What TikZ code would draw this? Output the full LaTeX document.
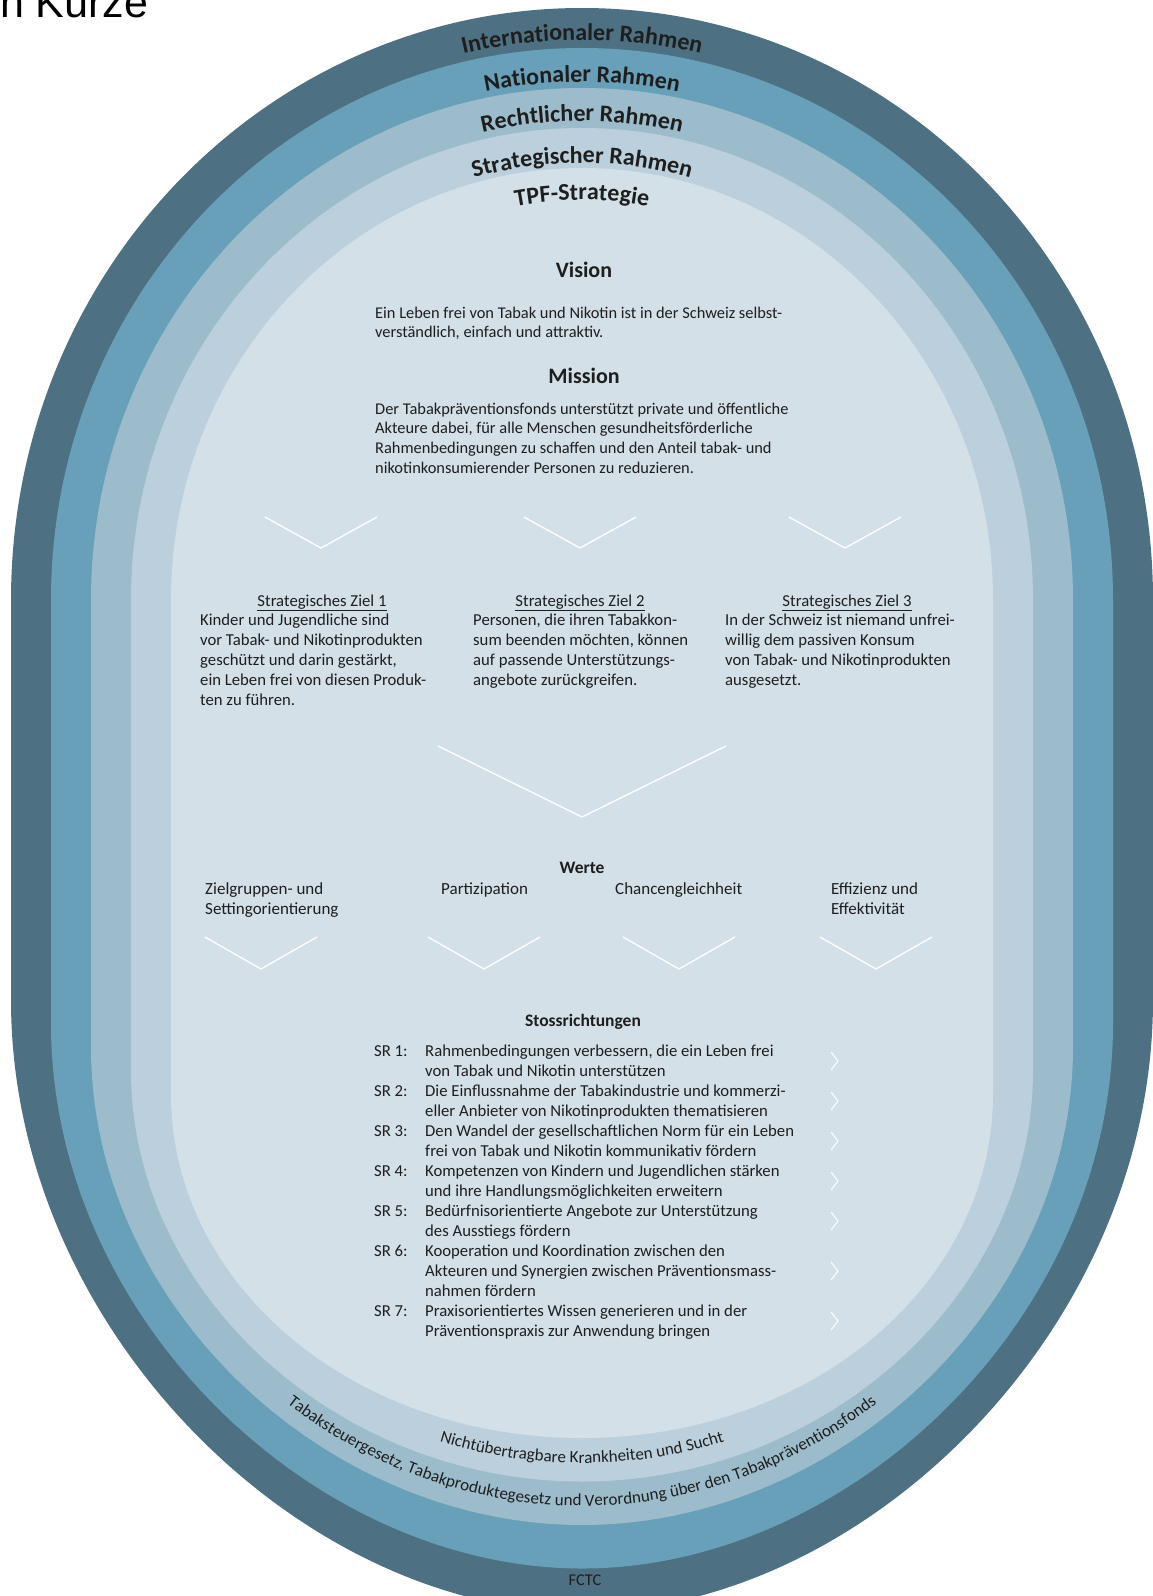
\documentclass[tikz,border=0pt]{standalone}
\usepackage{fontspec}
\setmainfont{Carlito}
\newfontfamily\titlefont{Liberation Sans}
\usetikzlibrary{decorations.text}
\definecolor{bandA}{RGB}{77,112,130}
\definecolor{bandB}{RGB}{103,160,184}
\definecolor{bandC}{RGB}{156,188,204}
\definecolor{bandD}{RGB}{187,208,220}
\definecolor{innerC}{RGB}{211,224,232}
\definecolor{ink}{RGB}{30,30,30}
\newcommand{\tl}[1]{\begin{tabular}[t]{@{}l@{}}#1\end{tabular}}
\newcommand{\ringfmt}{\fontsize{24}{26}\selectfont\bfseries}
\newcommand{\botfmt}{\fontsize{17}{19}\selectfont}
\tikzset{
  % #1 half width, #2 top radius, #3 start of bottom curve, #4 vertical handle, #5 horizontal handle, #6 bottom y
  ringshape/.style n args={6}{insert path={(582-#1,-600) arc[start angle=180,end angle=0,x radius=#1pt,y radius=#2pt] -- (582+#1,-#3) .. controls (582+#1,-#3-#4) and (582+#5,-#6) .. (582,-#6) .. controls (582-#5,-#6) and (582-#1,-#3-#4) .. (582-#1,-#3) -- cycle}},
  body/.style={font=\fontsize{16.4}{19.7}\selectfont, text=ink, inner sep=0pt},
  srtext/.style={font=\fontsize{16.7}{20}\selectfont, text=ink, inner sep=0pt},
  goal/.style={font=\fontsize{16.7}{20}\selectfont, text=ink, inner sep=0pt},
  value/.style={font=\fontsize{17}{20.5}\selectfont, text=ink, inner sep=0pt},
  head/.style={font=\fontsize{22}{24}\selectfont\bfseries, text=ink, inner sep=0pt},
  subhead/.style={font=\fontsize{17.5}{19}\selectfont\bfseries, text=ink, inner sep=0pt},
  chev/.style={draw=white, line width=1.3pt},
  srchev/.style={draw=white, line width=1pt},
  ring/.style={decorate, decoration={text along path, text align=center, text color=ink, text={#1}}}
}
\begin{document}
\begin{tikzpicture}[x=1pt,y=1pt]
\useasboundingbox (0,0) rectangle (1153,-1596);
\fill[white] (0,0) rectangle (1153,-1596);
% rings
\fill[bandA, ringshape={571}{592}{1000}{330}{280}{1612}];
\fill[bandB, ringshape={531}{552}{1023.5}{295}{267.5}{1568.5}];
\fill[bandC, ringshape={491}{512}{1047}{260}{255}{1525}];
\fill[bandD, ringshape={451}{472}{1070.5}{225}{242.5}{1481.5}];
\fill[innerC, ringshape={411}{432}{1094}{190}{230}{1438}];
% title
\node[font=\titlefont\fontsize{43}{45}\selectfont, anchor=base west, inner sep=0pt, text=black] (title) at (-12,-17) {In Kürze};
% top ring labels
\path[ring={|\ringfmt|Internationaler Rahmen}] (43,-600) arc[start angle=180,end angle=0,x radius=539pt,y radius=560pt];
\path[ring={|\ringfmt|Nationaler Rahmen}] (85,-600) arc[start angle=180,end angle=0,x radius=497pt,y radius=518pt];
\path[ring={|\ringfmt|Rechtlicher Rahmen}] (124,-600) arc[start angle=180,end angle=0,x radius=458pt,y radius=479pt];
\path[ring={|\ringfmt|Strategischer Rahmen}] (166,-600) arc[start angle=180,end angle=0,x radius=416pt,y radius=437pt];
\path[ring={|\ringfmt|TPF-Strategie}] (203,-600) arc[start angle=180,end angle=0,x radius=379pt,y radius=400pt];
% bottom ring labels
\path[ring={|\botfmt|Nichtübertragbare Krankheiten und Sucht}] (148,-1080.5) .. controls (148,-1290.5) and (345,-1463) .. (582,-1463) .. controls (819,-1463) and (1016,-1290.5) .. (1016,-1080.5);
\path[ring={|\botfmt|Tabaksteuergesetz, Tabakproduktegesetz und Verordnung über den Tabakpräventionsfonds}] (108.5,-1057.3) .. controls (108.5,-1302) and (332.5,-1506) .. (582,-1506) .. controls (831.5,-1506) and (1055.5,-1302) .. (1055.5,-1057.3);
\node[body, anchor=base] (fctc) at (585,-1585) {FCTC};
% vision & mission
\node[head, anchor=base] (vision) at (584,-277.5) {Vision};
\node[body, anchor=base west] (visiontext) at (375,-318) {\tl{Ein Leben frei von Tabak und Nikotin ist in der Schweiz selbst-\\verständlich, einfach und attraktiv.}};
\node[head, anchor=base] (mission) at (584,-383.5) {Mission};
\node[body, anchor=base west] (missiontext) at (375,-414) {\tl{Der Tabakpräventionsfonds unterstützt private und öffentliche\\Akteure dabei, für alle Menschen gesundheitsförderliche\\Rahmenbedingungen zu schaffen und den Anteil tabak- und\\nikotinkonsumierender Personen zu reduzieren.}};
% chevrons row 1
\draw[chev] (265,-517) -- (321,-548) -- (377,-517);
\draw[chev] (524,-517) -- (580,-548) -- (636,-517);
\draw[chev] (789,-517) -- (845,-548) -- (901,-517);
% goals
\node[goal, anchor=base] (g1head) at (322,-606) {\underline{Strategisches Ziel 1}};
\node[goal, anchor=base west] (g1) at (200,-625) {\tl{Kinder und Jugendliche sind\\vor Tabak- und Nikotinprodukten\\geschützt und darin gestärkt,\\ein Leben frei von diesen Produk-\\ten zu führen.}};
\node[goal, anchor=base] (g2head) at (580,-606) {\underline{Strategisches Ziel 2}};
\node[goal, anchor=base west] (g2) at (473,-625) {\tl{Personen, die ihren Tabakkon-\\sum beenden möchten, können\\auf passende Unterstützungs-\\angebote zurückgreifen.}};
\node[goal, anchor=base] (g3head) at (847,-606) {\underline{Strategisches Ziel 3}};
\node[goal, anchor=base west] (g3) at (725,-625) {\tl{In der Schweiz ist niemand unfrei-\\willig dem passiven Konsum\\von Tabak- und Nikotinprodukten\\ausgesetzt.}};
% big chevron
\draw[chev] (438,-746) -- (582,-817) -- (726,-746);
% values
\node[subhead, anchor=base] (werte) at (582,-873) {Werte};
\node[value, anchor=base west] (v1) at (205,-894) {\tl{Zielgruppen- und\\Settingorientierung}};
\node[value, anchor=base west] (v2) at (441,-894) {Partizipation};
\node[value, anchor=base west] (v3) at (615,-894) {Chancengleichheit};
\node[value, anchor=base west] (v4) at (831,-894) {\tl{Effizienz und\\Effektivität}};
\draw[chev] (205,-937) -- (261,-969) -- (317,-937);
\draw[chev] (428,-937) -- (484,-969) -- (540,-937);
\draw[chev] (623,-937) -- (679,-969) -- (735,-937);
\draw[chev] (820,-937) -- (876,-969) -- (932,-937);
% Stossrichtungen
\node[subhead, anchor=base] (sr) at (583,-1026) {Stossrichtungen};
\node[srtext, anchor=base west] (srlist) at (374,-1056) {\begin{tabular}[t]{@{}p{51pt}@{}l@{}}
SR 1: & Rahmenbedingungen verbessern, die ein Leben frei\\
 & von Tabak und Nikotin unterstützen\\
SR 2: & Die Einflussnahme der Tabakindustrie und kommerzi-\\
 & eller Anbieter von Nikotinprodukten thematisieren\\
SR 3: & Den Wandel der gesellschaftlichen Norm für ein Leben\\
 & frei von Tabak und Nikotin kommunikativ fördern\\
SR 4: & Kompetenzen von Kindern und Jugendlichen stärken\\
 & und ihre Handlungsmöglichkeiten erweitern\\
SR 5: & Bedürfnisorientierte Angebote zur Unterstützung\\
 & des Ausstiegs fördern\\
SR 6: & Kooperation und Koordination zwischen den\\
 & Akteuren und Synergien zwischen Präventionsmass-\\
 & nahmen fördern\\
SR 7: & Praxisorientiertes Wissen generieren und in der\\
 & Präventionspraxis zur Anwendung bringen
\end{tabular}};
\foreach \yy in {1061,1101,1141,1181,1221,1271,1321}{
  \draw[srchev] (831,-\yy+9) -- (838,-\yy) -- (831,-\yy-9);
}
\end{tikzpicture}
\end{document}
